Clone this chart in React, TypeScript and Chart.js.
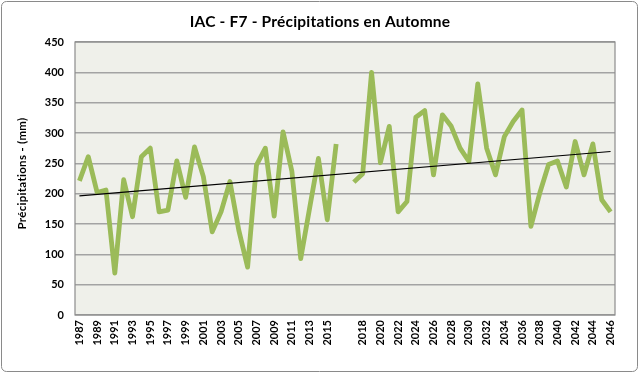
import React, { useEffect, useRef } from "react";
import { Chart, registerables } from "chart.js";

Chart.register(...registerables);

const TITLE = "IAC - F7 - Précipitations en Automne";
const Y_TITLE = "Précipitations - (mm)";

const yearsObserved = [
  "1987", "1988", "1989", "1990", "1991", "1992", "1993", "1994", "1995", "1996",
  "1997", "1998", "1999", "2000", "2001", "2002", "2003", "2004", "2005", "2006",
  "2007", "2008", "2009", "2010", "2011", "2012", "2013", "2014", "2015", "2016",
];
const valuesObserved = [
  221, 261, 202, 206, 69, 223, 162, 261, 275, 170,
  173, 254, 194, 277, 228, 137, 170, 220, 140, 79,
  247, 275, 163, 302, 237, 93, 176, 258, 157, 282,
];
const yearsProjected = [
  "2017", "2018", "2019", "2020", "2021", "2022", "2023", "2024", "2025", "2026",
  "2027", "2028", "2029", "2030", "2031", "2032", "2033", "2034", "2035", "2036",
  "2037", "2038", "2039", "2040", "2041", "2042", "2043", "2044", "2045", "2046",
];
const valuesProjected = [
  219, 233, 400, 251, 311, 170, 187, 326, 337, 231,
  330, 311, 275, 253, 381, 275, 231, 294, 319, 338,
  146, 201, 248, 254, 211, 286, 231, 282, 190, 170,
];
const trendStart = 196.5;
const trendEnd = 269.5;

const FONT = "Lato, 'Liberation Sans', sans-serif";

export default function App() {
  const ref = useRef<HTMLCanvasElement | null>(null);

  useEffect(() => {
    document.body.style.margin = "0";
    const labels = [...yearsObserved, "", ...yearsProjected];
    const series = [...valuesObserved, null, ...valuesProjected];
    const trend: (number | null)[] = labels.map(() => null);
    trend[0] = trendStart;
    trend[labels.length - 1] = trendEnd;

    const framePlugin = {
      id: "frame",
      beforeDraw(chart: any) {
        const { ctx, chartArea } = chart;
        ctx.save();
        ctx.fillStyle = "#ffffff";
        ctx.fillRect(0, 0, chart.width, chart.height);
        ctx.strokeStyle = "#8a8a8a";
        ctx.lineWidth = 1;
        ctx.beginPath();
        (ctx as any).roundRect(1.5, 1.5, 636, 370, 5);
        ctx.stroke();
        ctx.fillStyle = "#eff0ea";
        ctx.fillRect(chartArea.left, chartArea.top, chartArea.right - chartArea.left, chartArea.bottom - chartArea.top);
        ctx.fillStyle = "#000000";
        (ctx as any).letterSpacing = "0.2px";
        ctx.font = `bold 15.5px ${FONT}`;
        ctx.textAlign = "center";
        ctx.textBaseline = "middle";
        ctx.fillText(TITLE, 320, 22);
        ctx.translate(22, (chartArea.top + chartArea.bottom) / 2 - 5);
        ctx.rotate(-Math.PI / 2);
        ctx.font = `bold 11.5px ${FONT}`;
        (ctx as any).letterSpacing = "0.3px";
        ctx.fillText(Y_TITLE, 0, 0);
        ctx.restore();
      },
      beforeDatasetsDraw(chart: any) {
        const { ctx, chartArea } = chart;
        ctx.save();
        ctx.strokeStyle = "#8c8c8c";
        ctx.lineWidth = 1.2;
        ctx.strokeRect(chartArea.left, chartArea.top, chartArea.right - chartArea.left, chartArea.bottom - chartArea.top);
        ctx.restore();
      },
    };

    const chart = new Chart(ref.current as HTMLCanvasElement, {
      type: "line",
      data: {
        labels,
        datasets: [
          {
            label: "Tendance",
            data: trend,
            borderColor: "#000000",
            borderWidth: 1.2,
            pointRadius: 0,
            spanGaps: true,
            tension: 0,
          },
          {
            label: "Précipitations",
            data: series,
            borderColor: "#9bbb59",
            borderWidth: 4.8,
            pointRadius: 0,
            spanGaps: false,
            tension: 0,
            borderJoinStyle: "round",
          },
        ],
      },
      options: {
        responsive: false,
        animation: false,
        layout: { padding: { left: 0, right: 25, top: 42, bottom: 0 } },
        plugins: {
          legend: { display: false },
          title: { display: false },
          tooltip: { enabled: false },
        },
        scales: {
          x: {
            offset: true,
            grid: { display: false, drawTicks: false },
            border: { display: false },
            afterFit(scale: any) {
              scale.height = 61;
            },
            ticks: {
              autoSkip: false,
              minRotation: 90,
              maxRotation: 90,
              padding: 5,
              color: "#000000",
              font: { family: FONT, size: 11, weight: "bold" },
              callback: (_v: any, i: number) => (i % 2 === 0 ? labels[i] : ""),
            },
          },
          y: {
            min: 0,
            max: 450,
            afterFit(scale: any) {
              scale.width = 75;
            },
            grid: { color: "#a3a3a3", lineWidth: 1.5, drawTicks: false },
            border: { display: false },
            ticks: {
              stepSize: 50,
              padding: 11,
              color: "#000000",
              font: { family: FONT, size: 11, weight: "bold" },
            },
            title: { display: false },
          },
        },
      },
      plugins: [framePlugin],
    } as any);

    return () => chart.destroy();
  }, []);

  return <canvas ref={ref} width={640} height={376} style={{ display: "block" }} />;
}
